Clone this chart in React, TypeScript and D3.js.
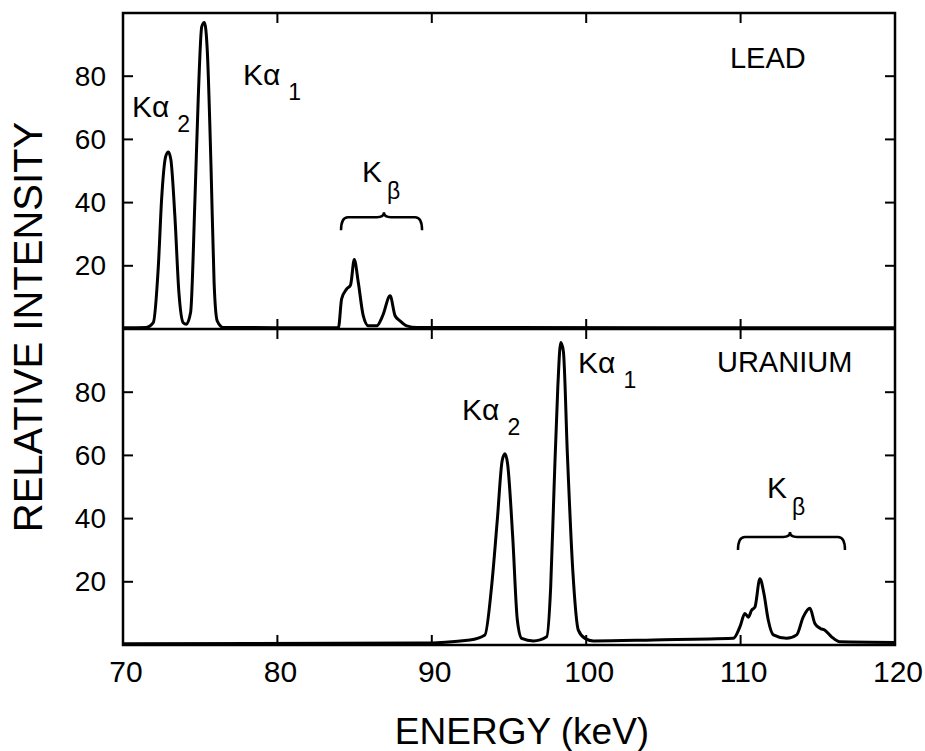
import React, { useEffect, useRef } from 'react';
import * as d3 from 'd3';

const leadEnergy = [70, 71.5, 71.96, 72.29, 72.5, 72.77, 72.94, 73.1, 73.36, 73.62, 73.9, 74.1, 74.38, 74.66, 74.87, 75.1, 75.27, 75.46, 75.7, 75.9, 76.1, 76.5, 80, 83.95, 84.16, 84.48, 84.74, 84.98, 85.24, 85.56, 85.89, 86.43, 86.82, 87.3, 87.62, 87.94, 88.38, 89.02, 120];
const leadIntensity = [0.4, 0.5, 2, 20, 41, 54.7, 56, 53.6, 35.7, 11.6, 2, 1.5, 5.3, 41, 72.6, 95.7, 97, 88, 51.5, 14.7, 2.6, 0.5, 0.4, 0.4, 9.5, 12.6, 14, 22, 14.7, 4.2, 1, 1, 4.2, 10.5, 4.2, 2.6, 1, 0.5, 0.4];

const uraniumEnergy = [70, 89.24, 92.47, 93.44, 93.87, 94.24, 94.56, 94.74, 94.91, 95.24, 95.54, 95.82, 96.58, 97.44, 97.7, 97.92, 98.16, 98.35, 98.52, 98.78, 99.13, 99.49, 99.92, 100.47, 104.35, 109.53, 109.96, 110.28, 110.5, 110.71, 110.93, 111.25, 111.51, 111.79, 112.12, 112.98, 113.63, 114.06, 114.49, 114.81, 115.14, 115.46, 115.89, 116.43, 120];
const uraniumIntensity = [0.4, 0.6, 1.6, 3.2, 18.4, 39.4, 58.4, 60.5, 57.3, 34.2, 7.9, 2.1, 1.3, 2.6, 18.4, 49.9, 81.5, 95.7, 93, 60.5, 23.7, 4.7, 2.1, 1.3, 1.6, 2.1, 5.8, 10, 8.8, 11, 12, 21, 16.3, 7.9, 3.2, 2.1, 3.2, 8.9, 11.6, 6.8, 5.3, 4.7, 2.6, 1, 0.8];

const energyTicks = [70, 80, 90, 100, 110, 120];
const intensityTicks = [20, 40, 60, 80];

// peak labels: anchor energy / intensity, main text, subscript
const leadLabels = [
  { e: 70.58, i: 67, main: 'Kα', sub: '2' },
  { e: 77.77, i: 77.2, main: 'Kα', sub: '1' },
  { e: 85.48, i: 46.5, main: 'K', sub: 'β' },
];
const uraniumLabels = [
  { e: 91.96, i: 71.2, main: 'Kα', sub: '2' },
  { e: 99.47, i: 86.1, main: 'Kα', sub: '1' },
  { e: 111.71, i: 46.5, main: 'K', sub: 'β' },
];
const leadBrace = { from: 84.12, to: 89.37, mid: 86.9, i: 35.4 };
const uraniumBrace = { from: 109.83, to: 116.76, mid: 113.2, i: 34.2 };

const FONT = '"Liberation Sans", Arial, Helvetica, sans-serif';

export default function App() {
  const svgRef = useRef<SVGSVGElement>(null);

  useEffect(() => {
    if (!svgRef.current) return;
    const svg = d3.select(svgRef.current);
    svg.selectAll('*').remove();

    const left = 123, right = 895, top = 13, mid = 329, bottom = 645;
    const tick = 10;

    const x = d3.scaleLinear().domain([70, 120]).range([left, right]);

    const panels = [
      { name: 'LEAD', nameE: 109.31, nameI: 82.6, energy: leadEnergy, intensity: leadIntensity,
        y: d3.scaleLinear().domain([0, 100]).range([mid, top]), labels: leadLabels, brace: leadBrace },
      { name: 'URANIUM', nameE: 108.47, nameI: 86.4, energy: uraniumEnergy, intensity: uraniumIntensity,
        y: d3.scaleLinear().domain([0, 100]).range([bottom, mid]), labels: uraniumLabels, brace: uraniumBrace },
    ];

    panels.forEach(p => {
      const g = svg.append('g');
      const [yb, yt] = p.y.range();

      // spectrum
      const line = d3.line<number>()
        .x((_, k) => x(p.energy[k]))
        .y(d => p.y(d))
        .curve(d3.curveMonotoneX);
      g.append('path')
        .datum(p.intensity)
        .attr('fill', 'none')
        .attr('stroke', '#000')
        .attr('stroke-width', 3)
        .attr('stroke-linejoin', 'round')
        .attr('d', line);

      // inward y ticks, both sides
      intensityTicks.forEach(t => {
        const yy = p.y(t);
        g.append('line').attr('x1', left).attr('x2', left + tick).attr('y1', yy).attr('y2', yy)
          .attr('stroke', '#000').attr('stroke-width', 2);
        g.append('line').attr('x1', right).attr('x2', right - tick).attr('y1', yy).attr('y2', yy)
          .attr('stroke', '#000').attr('stroke-width', 2);
        g.append('text')
          .attr('x', left - 17)
          .attr('y', yy)
          .attr('text-anchor', 'end')
          .attr('dominant-baseline', 'central')
          .style('font-family', FONT)
          .style('font-size', '28px')
          .text(t);
      });

      // inward x ticks, top and bottom of each panel
      energyTicks.slice(1, -1).forEach(t => {
        const xx = x(t);
        g.append('line').attr('x1', xx).attr('x2', xx).attr('y1', yb).attr('y2', yb - tick)
          .attr('stroke', '#000').attr('stroke-width', 2);
        g.append('line').attr('x1', xx).attr('x2', xx).attr('y1', yt).attr('y2', yt + tick)
          .attr('stroke', '#000').attr('stroke-width', 2);
      });

      // element name
      g.append('text')
        .attr('x', x(p.nameE))
        .attr('y', p.y(p.nameI))
        .style('font-family', FONT)
        .style('font-size', '29px')
        .text(p.name);

      // peak labels
      p.labels.forEach(l => {
        const t = g.append('text')
          .attr('x', x(l.e))
          .attr('y', p.y(l.i))
          .style('font-family', FONT)
          .style('font-size', '30px');
        t.append('tspan').text(l.main);
        t.append('tspan')
          .attr('dx', l.main === 'K' ? 5 : 8)
          .attr('dy', l.sub === 'β' ? 17 : 15)
          .style('font-size', '23px')
          .text(l.sub);
      });

      // brace over the K-beta group
      const b = p.brace;
      const x1 = x(b.from), x2 = x(b.to), xc = x(b.mid), by = p.y(b.i);
      const path = d3.path();
      path.moveTo(x1, by + 13);
      path.quadraticCurveTo(x1, by, x1 + 7, by);
      path.lineTo(xc - 7, by);
      path.quadraticCurveTo(xc, by, xc, by - 5);
      path.quadraticCurveTo(xc, by, xc + 7, by);
      path.lineTo(x2 - 7, by);
      path.quadraticCurveTo(x2, by, x2, by + 13);
      g.append('path')
        .attr('d', path.toString())
        .attr('fill', 'none')
        .attr('stroke', '#000')
        .attr('stroke-width', 2.5);
    });

    // frame
    svg.append('rect')
      .attr('x', left).attr('y', top)
      .attr('width', right - left).attr('height', bottom - top)
      .attr('fill', 'none').attr('stroke', '#000').attr('stroke-width', 2.5);
    svg.append('line')
      .attr('x1', left).attr('x2', right).attr('y1', mid).attr('y2', mid)
      .attr('stroke', '#000').attr('stroke-width', 2.5);

    // x tick labels
    svg.selectAll('.xlab')
      .data(energyTicks)
      .join('text')
        .attr('class', 'xlab')
        .attr('x', d => x(d) + 3)
        .attr('y', 682)
        .attr('text-anchor', 'middle')
        .style('font-family', FONT)
        .style('font-size', '30px')
        .text(d => d);

    // axis titles
    svg.append('text')
      .attr('x', 522)
      .attr('y', 744)
      .attr('text-anchor', 'middle')
      .style('font-family', FONT)
      .style('font-size', '37px')
      .text('ENERGY (keV)');

    svg.append('text')
      .attr('transform', 'translate(42, 327) rotate(-90)')
      .attr('text-anchor', 'middle')
      .style('font-family', FONT)
      .style('font-size', '40px')
      .text('RELATIVE INTENSITY');
  }, []);

  return (
    <svg
      ref={svgRef}
      width={925}
      height={751}
      style={{ position: 'absolute', left: 0, top: 0, background: '#fff' }}
    />
  );
}
